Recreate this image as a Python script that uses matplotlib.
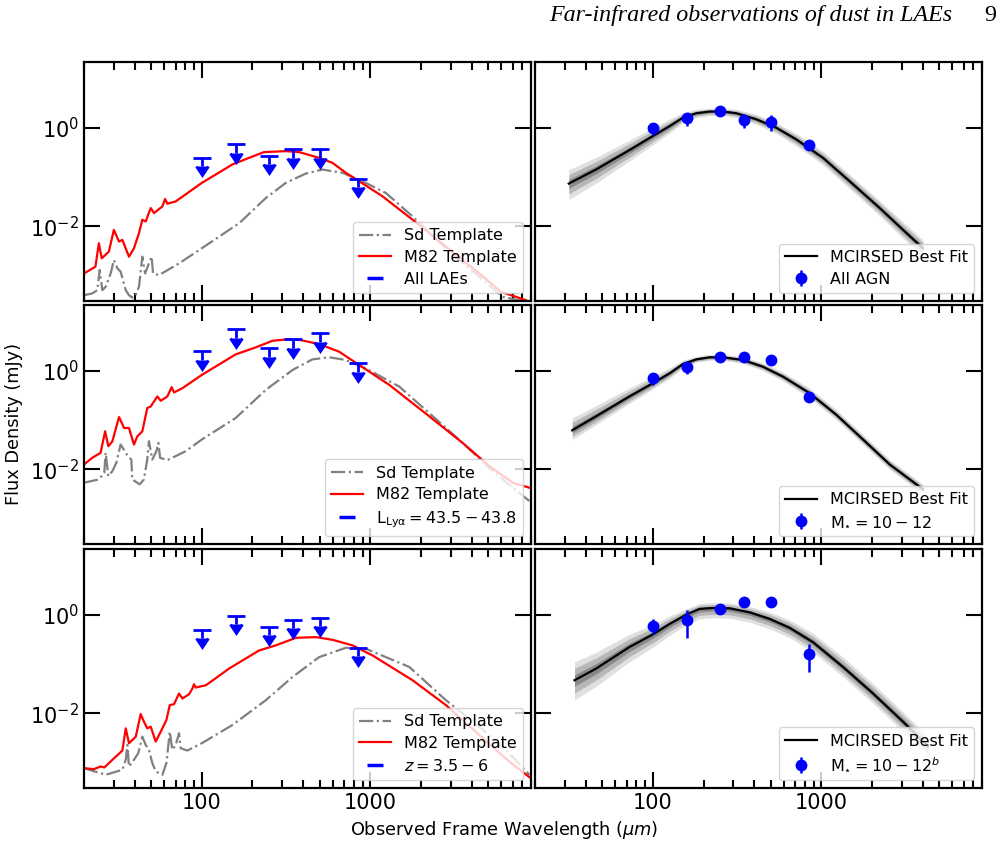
import numpy as np
import matplotlib.pyplot as plt
from matplotlib import ticker
from matplotlib.lines import Line2D

# observed bands (micron)
bands = [100, 160, 250, 350, 500, 850]

# stacked LAE upper limits (mJy)
lim_all = [0.245, 0.46, 0.27, 0.37, 0.37, 0.092]
lim_lya = [2.49, 6.8, 2.82, 4.27, 5.65, 1.41]
lim_z = [0.491, 0.954, 0.573, 0.781, 0.857, 0.213]

# M82 template, one per row
m82_x_all = [20, 23.4, 24.5, 25.5, 28.1, 30.1, 32.3, 33.8, 37.0, 39.6, 42.4, 44.4, 46.5, 49.8, 52.1,
             58.4, 60.6, 62.5, 70.1, 100, 152, 191, 234, 315, 379, 498, 597, 717, 860, 1183, 1783,
             2815, 4441, 5975, 8410]
m82_y_all = [1.12e-3, 1.54e-3, 4.58e-3, 2.27e-3, 3.10e-3, 8.55e-3, 4.95e-3, 5.36e-3, 2.45e-3,
             3.62e-3, 7.31e-3, 1.37e-2, 1.26e-2, 2.36e-2, 1.87e-2, 2.55e-2, 3.60e-2, 2.89e-2,
             3.22e-2, 7.61e-2, 0.180, 0.245, 0.320, 0.335, 0.320, 0.245, 0.194, 0.122, 0.0823,
             0.0408, 0.0137, 3.92e-3, 1.12e-3, 4.76e-4, 3.22e-4]

m82_x_lya = [20, 22.4, 25.1, 26.7, 27.9, 29.5, 32.3, 34.6, 37.0, 39.6, 41.5, 44.4, 47.5, 49.8, 54.5,
             57.1, 62.5, 66.3, 68.5, 76.8, 100, 159, 209, 263, 315, 387, 498, 654, 860, 1297, 2240,
             3537, 5090, 7010, 8800]
m82_y_lya = [0.0126, 0.0172, 0.0217, 0.0591, 0.0295, 0.0372, 0.115, 0.069, 0.069, 0.0319, 0.0469,
             0.0591, 0.175, 0.188, 0.300, 0.245, 0.300, 0.462, 0.361, 0.441, 0.818, 2.13, 2.95,
             4.02, 4.27, 4.14, 3.44, 2.41, 1.30, 0.515, 0.119, 0.0344, 0.0117, 5.39e-3, 4.27e-3]

m82_x_z = [20, 22.9, 25.1, 26.4, 29.5, 33.8, 35.4, 37.0, 40.6, 43.4, 45.4, 47.5, 49.8, 53.3, 57.1,
           61.7, 64.6, 68.5, 73.3, 76.8, 84.1, 88.0, 90.0, 92.1, 106, 145, 219, 275, 362, 476, 597,
           785, 1032, 1783, 2815, 4441, 6690, 8800]
m82_y_z = [7.81e-4, 7.45e-4, 8.43e-4, 8.05e-4, 1.15e-3, 1.77e-3, 4.99e-3, 2.49e-3, 3.39e-3,
           9.70e-3, 6.79e-3, 4.99e-3, 5.39e-3, 2.69e-3, 4.27e-3, 7.34e-3, 0.0147, 0.0154, 0.0253,
           0.0200, 0.0245, 0.0319, 0.0390, 0.0334, 0.0372, 0.0805, 0.188, 0.238, 0.339, 0.350,
           0.309, 0.238, 0.149, 0.0469, 0.0147, 3.66e-3, 1.06e-3, 5.14e-4]

# Sd template, one per row
sd_x_all = [20, 22.4, 24.0, 24.8, 25.7, 26.9, 28.8, 30.1, 31.6, 33.0, 35.4, 37.0, 38.7, 40.2, 42.4,
            44.4, 46.1, 48.6, 50.4, 51.4, 55.8, 73.3, 100, 167, 240, 315, 415, 521, 685, 942,
            1239, 1783, 2815, 4441, 6110, 8410]
sd_y_all = [4.07e-4, 4.41e-4, 5.15e-4, 1.32e-3, 5.15e-4, 6.02e-4, 1.12e-3, 2.10e-3, 1.42e-3,
            1.22e-3, 5.15e-4, 4.07e-4, 3.66e-4, 3.77e-4, 6.02e-4, 2.45e-3, 1.12e-3, 1.79e-3,
            2.45e-3, 1.12e-3, 1.04e-3, 1.79e-3, 3.62e-3, 1.17e-2, 3.77e-2, 7.61e-2, 0.118, 0.142,
            0.122, 7.61e-2, 0.0476, 0.0160, 3.62e-3, 9.62e-4, 3.77e-4, 2.98e-4]

sd_x_lya = [20, 24.5, 26.4, 26.9, 27.9, 29.5, 31.1, 33.0, 36.5, 38.2, 38.7, 42.8, 45.4, 47.5, 48.6,
            50.9, 53.8, 55.3, 56.6, 62.5, 80.3, 100, 159, 240, 346, 454, 571, 717, 942, 1486,
            2240, 3537, 5090, 7010, 8800]
sd_y_lya = [5.39e-3, 6.29e-3, 8.57e-3, 0.0217, 7.34e-3, 9.25e-3, 0.0136, 0.0319, 0.0185, 0.0159,
            6.29e-3, 4.99e-3, 6.29e-3, 0.0159, 0.0372, 0.0159, 0.0234, 0.0344, 0.0172, 0.0154,
            0.0234, 0.0402, 0.110, 0.408, 1.03, 1.69, 1.86, 1.64, 1.11, 0.476, 0.138, 0.0344,
            0.0108, 4.27e-3, 2.30e-3]

sd_x_z = [20, 26.9, 33.8, 35.4, 36.2, 37.0, 39.6, 42.0, 44.4, 46.5, 48.6, 50.9, 53.3, 58.4, 61.7,
          64.6, 66.9, 70.1, 73.3, 75.0, 82.2, 100, 152, 240, 346, 498, 717, 942, 1705, 2815,
          4441, 6390, 8800]
sd_y_z = [7.81e-4, 5.73e-4, 7.23e-4, 1.15e-3, 2.30e-3, 8.43e-4, 1.15e-3, 1.57e-3, 3.39e-3,
          2.30e-3, 1.83e-3, 9.85e-4, 6.69e-4, 5.73e-4, 9.85e-4, 4.27e-3, 1.83e-3, 2.30e-3,
          3.96e-3, 1.97e-3, 1.77e-3, 2.49e-3, 5.82e-3, 0.0185, 0.0547, 0.138, 0.213, 0.204,
          0.0871, 0.0185, 5.39e-3, 1.83e-3, 5.73e-4]

# stacked AGN fluxes (mJy) with errors
agn_all = [0.97, 1.55, 2.18, 1.41, 1.32, 0.437]
agn_all_lo = [0.27, 0.47, 0.25, 0.44, 0.47, 0.05]
agn_all_hi = [0.29, 0.47, 0.25, 0.32, 0.46, 0.05]
agn_m1 = [0.70, 1.20, 1.86, 1.86, 1.64, 0.286]
agn_m1_lo = [0.19, 0.35, 0.1, 0.1, 0.1, 0.03]
agn_m1_hi = [0.18, 0.31, 0.1, 0.1, 0.1, 0.03]
agn_m2 = [0.60, 0.78, 1.28, 1.83, 1.83, 0.161]
agn_m2_lo = [0.19, 0.44, 0.1, 0.1, 0.1, 0.092]
agn_m2_hi = [0.22, 0.43, 0.1, 0.1, 0.1, 0.089]

# MCIRSED best fits and spread of the draws (dex above / below)
fit_x_all = [31.7, 46.0, 72.6, 100, 126, 151, 181, 217, 261, 313, 411, 540, 710, 1023, 1473, 2222,
             3055, 4018]
fit_y_all = [0.0738, 0.142, 0.351, 0.677, 1.08, 1.60, 1.96, 2.12, 2.12, 1.96, 1.48, 1.0, 0.579,
             0.245, 0.0823, 0.0236, 8.55e-3, 3.62e-3]
spr_up_all = [0.28, 0.25, 0.2, 0.17, 0.14, 0.1, 0.08, 0.07, 0.07, 0.08, 0.1, 0.1, 0.12, 0.13, 0.14,
              0.15, 0.16, 0.17]
spr_dn_all = [0.32, 0.28, 0.22, 0.18, 0.14, 0.1, 0.09, 0.08, 0.08, 0.09, 0.1, 0.12, 0.13, 0.14,
              0.15, 0.16, 0.17, 0.17]

fit_x_m1 = [33.2, 46.0, 72.6, 100, 126, 151, 181, 217, 261, 343, 450, 592, 853, 1227, 1770, 2547,
            4018]
fit_y_m1 = [0.0619, 0.1186, 0.300, 0.556, 0.884, 1.36, 1.69, 1.86, 1.86, 1.64, 1.20, 0.757, 0.350,
            0.128, 0.0402, 0.0126, 3.95e-3]
spr_up_m1 = [0.25, 0.22, 0.17, 0.14, 0.11, 0.08, 0.06, 0.06, 0.06, 0.07, 0.08, 0.09, 0.1, 0.1, 0.1,
             0.1, 0.1]
spr_dn_m1 = [0.19, 0.17, 0.14, 0.12, 0.1, 0.08, 0.06, 0.06, 0.06, 0.07, 0.08, 0.09, 0.1, 0.1, 0.1,
             0.1, 0.1]

fit_x_m2 = [34.3, 46.0, 72.6, 100, 126, 158, 189, 227, 285, 375, 493, 649, 892, 1345, 2028, 3055,
            4305]
fit_y_m2 = [0.0469, 0.0805, 0.220, 0.396, 0.649, 1.0, 1.30, 1.36, 1.34, 1.11, 0.818, 0.539, 0.277,
            0.0871, 0.0253, 6.79e-3, 2.13e-3]
spr_up_m2 = [0.37, 0.33, 0.26, 0.2, 0.16, 0.12, 0.11, 0.11, 0.11, 0.12, 0.14, 0.16, 0.18, 0.2, 0.2,
             0.2, 0.2]
spr_dn_m2 = [0.4, 0.36, 0.3, 0.26, 0.23, 0.21, 0.2, 0.2, 0.2, 0.2, 0.2, 0.2, 0.2, 0.2, 0.2, 0.2, 0.2]

left_labels = ["All LAEs", r"L$_{\rm Ly\alpha} = 43.5-43.8$", r"$z = 3.5-6$"]
right_labels = ["All AGN", r"M$_{\star} = 10-12$", r"M$_{\star} = 10-12^{b}$"]

lims = [lim_all, lim_lya, lim_z]
m82 = [(m82_x_all, m82_y_all), (m82_x_lya, m82_y_lya), (m82_x_z, m82_y_z)]
sd = [(sd_x_all, sd_y_all), (sd_x_lya, sd_y_lya), (sd_x_z, sd_y_z)]
agn = [(agn_all, agn_all_lo, agn_all_hi), (agn_m1, agn_m1_lo, agn_m1_hi), (agn_m2, agn_m2_lo, agn_m2_hi)]
fits = [(fit_x_all, fit_y_all, spr_up_all, spr_dn_all), (fit_x_m1, fit_y_m1, spr_up_m1, spr_dn_m1),
        (fit_x_m2, fit_y_m2, spr_up_m2, spr_dn_m2)]

fig = plt.figure(figsize=(10.08, 8.48), dpi=100)
bottoms = [0.645, 0.3585, 0.0708]
h = 0.2815
lefts = [0.0833, 0.5308]
w = 0.4435


def style(ax, show_y):
    ax.set_xscale('log')
    ax.set_yscale('log')
    ax.set_xlim(20, 9000)
    ax.set_ylim(3.1e-4, 21)
    ax.yaxis.set_major_locator(ticker.FixedLocator([1e-4, 1e-2, 1, 1e2]))
    ax.yaxis.set_minor_locator(ticker.NullLocator())
    ax.xaxis.set_major_locator(ticker.FixedLocator([10, 100, 1000, 10000]))
    ax.xaxis.set_minor_locator(ticker.LogLocator(base=10, subs=np.arange(2, 10), numticks=20))
    ax.xaxis.set_major_formatter(ticker.FuncFormatter(lambda v, p: f"{v:g}"))
    ax.xaxis.set_minor_formatter(ticker.NullFormatter())
    ax.tick_params(which='both', direction='in', top=True, right=True, width=1.5, labelsize=15)
    ax.tick_params(which='major', length=11.5)
    ax.tick_params(which='minor', length=5.5)
    if not show_y:
        ax.tick_params(labelleft=False)
    for s in ax.spines.values():
        s.set_linewidth(1.6)


for r in range(3):
    axl = fig.add_axes([lefts[0], bottoms[r], w, h])
    axr = fig.add_axes([lefts[1], bottoms[r], w, h])
    style(axl, True)
    style(axr, False)
    if r < 2:
        axl.tick_params(labelbottom=False)
        axr.tick_params(labelbottom=False)

    # left: templates and upper limits
    axl.plot(*sd[r], color='gray', ls='-.', lw=1.6, label='Sd Template')
    axl.plot(*m82[r], color='red', lw=1.6, label='M82 Template')
    up = lims[r]
    eb = axl.errorbar(bands, up, yerr=[0.33 * v for v in up], uplims=True, fmt='none',
                      ecolor='blue', elinewidth=2, capsize=6.3, capthick=2)
    for cl in eb[1]:
        cl.set_color('blue')
        cl.set_markerfacecolor('blue')
        cl.set_markeredgecolor('blue')
        if cl.get_marker() not in ('_', '|'):
            cl.set_markersize(9)
    handles, labels = axl.get_legend_handles_labels()
    handles.append(Line2D([], [], color='blue', marker='_', ls='none', ms=12, mew=2.5))
    labels.append(left_labels[r])
    axl.legend(handles, labels, loc='lower right', fontsize=11.5, labelspacing=0.42)

    # right: MCIRSED fits
    fx, fy, su, sdn = fits[r]
    fx = np.array(fx)
    fy = np.array(fy)
    su = np.array(su)
    sdn = np.array(sdn)
    for k, a in [(1.0, 0.12), (0.65, 0.18), (0.3, 0.25)]:
        axr.fill_between(fx, fy / 10 ** (sdn * k), fy * 10 ** (su * k), color='k', alpha=a, lw=0)
    axr.plot(fx, fy, color='k', lw=1.6, label='MCIRSED Best Fit')
    val, lo, hi = agn[r]
    axr.errorbar(bands, val, yerr=[lo, hi], fmt='o', color='blue', ms=7.5, elinewidth=1.8,
                 label=right_labels[r])
    axr.legend(loc='lower right', fontsize=11.5, labelspacing=0.42)

fig.text(0.5, 0.021, r'Observed Frame Wavelength ($\mu m$)', ha='center', va='center', fontsize=12.8)
fig.text(0.014, 0.5, 'Flux Density (mJy)', ha='center', va='center', rotation=90, fontsize=12.8)
fig.text(0.945, 0.982, 'Far-infrared observations of dust in LAEs', ha='right', va='center',
         fontsize=17.3, style='italic', family='Liberation Serif')
fig.text(0.982, 0.982, '9', ha='center', va='center', fontsize=17.3, family='Liberation Serif')

fig.savefig('out.png', dpi=100)
